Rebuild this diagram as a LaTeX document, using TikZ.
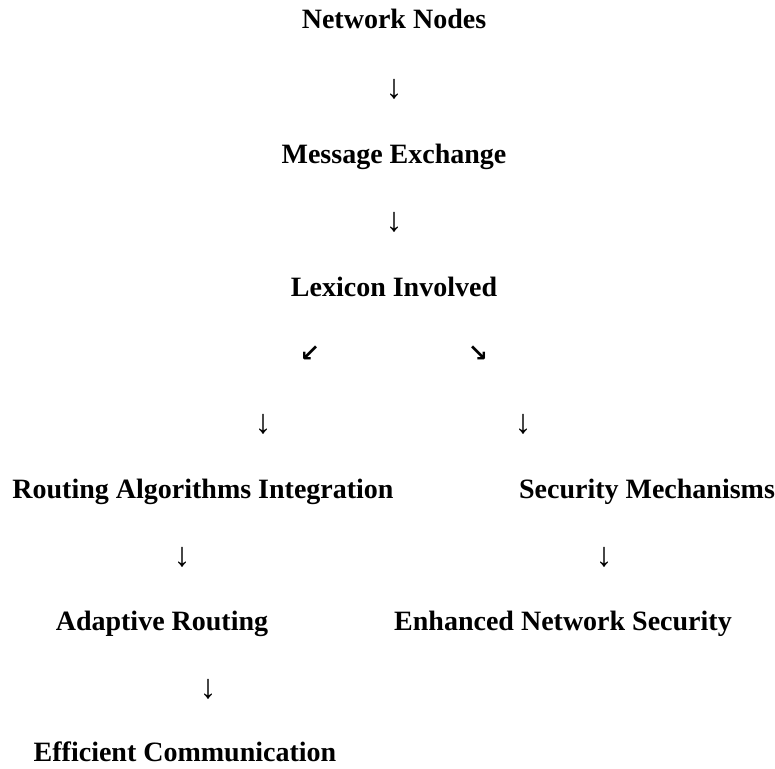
\documentclass[tikz,border=0pt]{standalone}
\usepackage{fontspec}
\setmainfont{Liberation Serif}
\newfontfamily\arrowfont{Liberation Serif}
\newfontfamily\diagfont{DejaVu Sans}
\begin{document}
\begin{tikzpicture}[x=1pt,y=-1pt,
  label/.style={font=\fontsize{28}{32}\selectfont\bfseries, anchor=base, inner sep=0pt},
  down/.style={font=\arrowfont\fontsize{34}{38}\selectfont, anchor=center, inner sep=0pt},
  slant/.style={font=\diagfont\bfseries\fontsize{24}{28}\selectfont, anchor=center, inner sep=0pt}]
\useasboundingbox (0,0) rectangle (775,768);
% main column
\node[label] (nodes) at (394,29) {Network Nodes};
\node[down] (a1) at (394,89) {↓};
\node[label] (msg) at (394,163) {Message Exchange};
\node[down] (a2) at (394,222) {↓};
\node[label] (lex) at (394,296) {Lexicon Involved};
% split
\node[slant] (sl) at (310,354) {↙};
\node[slant] (sr) at (478,354) {↘};
\node[down] (a3) at (263,424) {↓};
\node[down] (a4) at (523,424) {↓};
% left branch
\node[label] (route) at (203,498) {Routing Algorithms Integration};
\node[down] (a5) at (182,557) {↓};
\node[label] (adapt) at (162,630) {Adaptive Routing};
\node[down] (a6) at (208,689) {↓};
\node[label] (eff) at (185,761) {Efficient Communication};
% right branch
\node[label] (sec) at (647,498) {Security Mechanisms};
\node[down] (a7) at (604,557) {↓};
\node[label] (enh) at (563,630) {Enhanced Network Security};
\end{tikzpicture}
\end{document}
